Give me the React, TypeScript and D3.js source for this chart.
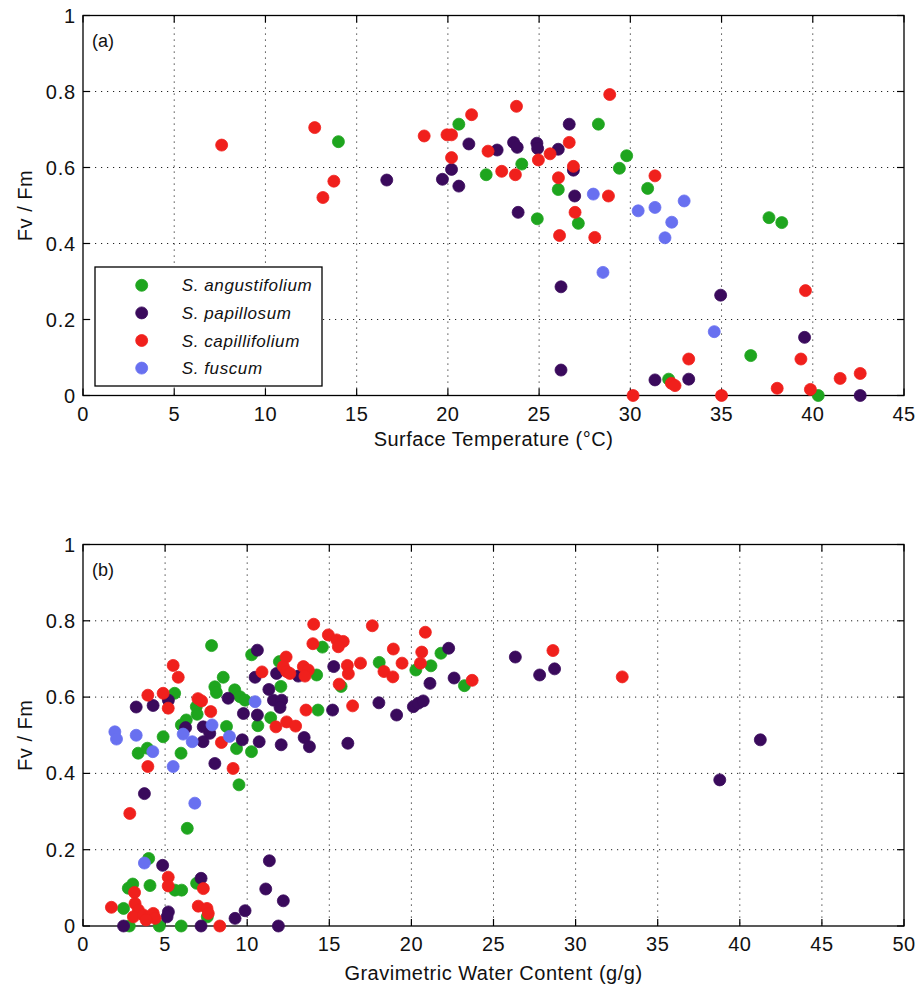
import React from "react";
import * as d3 from "d3";

type Pt = [number, number];

// ---------- Panel (a): Surface Temperature (°C) vs Fv/Fm ----------
const tempAngustifolium: Pt[] = [
  [14.0, 0.668], [20.6, 0.714], [22.1, 0.581], [24.05, 0.609], [24.9, 0.465], [26.05, 0.542],
  [27.15, 0.453], [28.25, 0.714], [29.4, 0.598], [29.8, 0.631], [30.95, 0.545], [32.1, 0.043],
  [36.6, 0.105], [37.6, 0.468], [38.3, 0.455], [40.3, 0.0],
];
const tempPapillosum: Pt[] = [
  [16.65, 0.567], [19.7, 0.569], [20.2, 0.595], [20.6, 0.551], [21.15, 0.662], [22.7, 0.646],
  [23.6, 0.666], [23.8, 0.653], [23.85, 0.482], [24.88, 0.664], [24.92, 0.65], [26.05, 0.648],
  [26.65, 0.714], [26.88, 0.593], [26.95, 0.525], [26.2, 0.286], [26.2, 0.067], [31.35, 0.041],
  [33.2, 0.043], [34.95, 0.264], [39.55, 0.153], [42.6, 0.0],
];
const tempCapillifolium: Pt[] = [
  [7.6, 0.659], [12.7, 0.705], [13.15, 0.521], [13.75, 0.564], [18.7, 0.683], [19.95, 0.686],
  [20.2, 0.686], [20.2, 0.626], [21.3, 0.739], [22.2, 0.643], [22.95, 0.59], [23.7, 0.581],
  [23.76, 0.761], [24.96, 0.62], [25.6, 0.636], [26.06, 0.573], [26.65, 0.666], [26.88, 0.603],
  [26.97, 0.482], [26.12, 0.421], [28.05, 0.416], [28.8, 0.525], [28.87, 0.792], [31.35, 0.578],
  [30.15, 0.0], [32.25, 0.032], [32.45, 0.026], [33.2, 0.096], [35.0, 0.0], [38.05, 0.019],
  [39.35, 0.096], [39.6, 0.276], [39.87, 0.016], [41.5, 0.045], [42.6, 0.058],
];
const tempFuscum: Pt[] = [
  [27.97, 0.53], [28.5, 0.324], [30.43, 0.486], [31.35, 0.495], [31.9, 0.415], [32.27, 0.456],
  [32.95, 0.512], [34.6, 0.168],
];

// ---------- Panel (b): Gravimetric Water Content (g/g) vs Fv/Fm ----------
const waterAngustifolium: Pt[] = [
  [7.83, 0.735], [14.58, 0.731], [10.27, 0.711], [11.96, 0.693], [8.54, 0.652], [14.23, 0.658],
  [18.04, 0.691], [20.27, 0.671], [21.19, 0.682], [21.8, 0.715], [23.23, 0.63], [15.72, 0.628],
  [12.05, 0.628], [14.31, 0.566], [11.43, 0.546], [10.65, 0.525], [10.26, 0.457], [9.35, 0.465],
  [9.5, 0.37], [9.24, 0.619], [9.56, 0.601], [9.87, 0.592], [8.03, 0.627], [8.12, 0.612],
  [8.74, 0.523], [6.9, 0.575], [6.95, 0.555], [6.29, 0.54], [5.99, 0.527], [5.58, 0.61],
  [5.97, 0.453], [4.88, 0.496], [3.36, 0.453], [3.92, 0.466], [6.35, 0.256],
  [4.0, 0.177], [2.76, 0.099], [3.03, 0.11], [4.08, 0.106], [5.6, 0.094], [6.01, 0.094],
  [6.92, 0.112], [2.47, 0.046], [7.57, 0.024], [2.82, 0.0], [4.65, 0.0], [5.98, 0.0],
];
const waterPapillosum: Pt[] = [
  [10.62, 0.723], [22.27, 0.728], [26.33, 0.705], [28.72, 0.674], [27.81, 0.658], [22.6, 0.65],
  [21.13, 0.636], [10.48, 0.652], [11.79, 0.662], [13.11, 0.655], [15.27, 0.68], [11.32, 0.62],
  [11.6, 0.592], [12.1, 0.592], [12.0, 0.573], [8.84, 0.597], [5.2, 0.592], [3.24, 0.574],
  [4.27, 0.578], [9.77, 0.557], [10.62, 0.553], [7.32, 0.522], [7.72, 0.505], [7.31, 0.483],
  [6.25, 0.52], [9.7, 0.488], [10.73, 0.483], [12.07, 0.475], [13.47, 0.494], [13.79, 0.47],
  [16.13, 0.479], [15.2, 0.566], [18.02, 0.585], [19.1, 0.553], [20.12, 0.575], [20.42, 0.584],
  [20.72, 0.59], [8.03, 0.426], [3.74, 0.347], [41.25, 0.488], [38.78, 0.383],
  [4.85, 0.159], [7.19, 0.125], [5.2, 0.037], [5.12, 0.024], [9.26, 0.02], [9.87, 0.04],
  [11.35, 0.171], [11.13, 0.097], [12.2, 0.066], [2.47, 0.0], [7.19, 0.0], [11.9, 0.0],
];
const waterCapillifolium: Pt[] = [
  [14.05, 0.791], [17.62, 0.787], [20.85, 0.77], [14.94, 0.763], [15.45, 0.75], [15.85, 0.746],
  [15.55, 0.732], [14.0, 0.74], [12.37, 0.705], [10.9, 0.666], [12.2, 0.68], [12.4, 0.667],
  [12.6, 0.662], [13.42, 0.68], [13.72, 0.671], [13.52, 0.655], [16.1, 0.683], [16.16, 0.661],
  [16.9, 0.689], [15.6, 0.634], [18.9, 0.726], [18.33, 0.667], [18.87, 0.653], [19.43, 0.689],
  [20.55, 0.689], [20.63, 0.718], [23.7, 0.644], [28.62, 0.722], [32.84, 0.653], [16.42, 0.577],
  [13.58, 0.566], [11.75, 0.522], [12.4, 0.535], [12.95, 0.524], [5.49, 0.683], [5.8, 0.652],
  [3.95, 0.605], [4.88, 0.61], [5.19, 0.571], [7.0, 0.596], [7.22, 0.59], [7.78, 0.562],
  [8.43, 0.481], [9.14, 0.413], [3.95, 0.418], [2.85, 0.295],
  [5.19, 0.128], [5.19, 0.105], [3.14, 0.088], [7.33, 0.098], [1.73, 0.049], [3.17, 0.059],
  [3.37, 0.042], [3.07, 0.024], [3.67, 0.029], [3.98, 0.024], [4.28, 0.033], [4.39, 0.02],
  [3.84, 0.016], [7.02, 0.052], [7.55, 0.046], [7.63, 0.033], [8.33, 0.0],
];
const waterFuscum: Pt[] = [
  [10.48, 0.588], [7.86, 0.527], [8.92, 0.497], [6.1, 0.503], [6.65, 0.483], [1.94, 0.509],
  [2.04, 0.49], [3.24, 0.5], [4.25, 0.457], [5.49, 0.418], [6.81, 0.322], [3.74, 0.165],
];

const speciesNames = ["S. angustifolium", "S. papillosum", "S. capillifolium", "S. fuscum"];
const speciesColors = ["#1ea51e", "#3a0a5c", "#f0201c", "#6870f0"];

const yTickValues = [0, 0.2, 0.4, 0.6, 0.8, 1];
const tempTicks = [0, 5, 10, 15, 20, 25, 30, 35, 40, 45];
const waterTicks = [0, 5, 10, 15, 20, 25, 30, 35, 40, 45, 50];

const FONT = "'Liberation Sans', Arial, Helvetica, sans-serif";

interface PanelProps {
  top: number;
  bottom: number;
  xMax: number;
  xTicks: number[];
  series: Pt[][];
  xLabel: string;
  xLabelBaseline: number;
  tag: string;
  legend?: boolean;
}

const LEFT = 83;
const RIGHT = 904;

function Panel({ top, bottom, xMax, xTicks, series, xLabel, xLabelBaseline, tag, legend }: PanelProps) {
  const x = d3.scaleLinear().domain([0, xMax]).range([LEFT, RIGHT]);
  const y = d3.scaleLinear().domain([0, 1]).range([bottom, top]);
  const tickLen = 7;
  const fmt = (v: number) => (v === 0 || v === 1 ? String(v) : d3.format(".1f")(v));
  return (
    <g>
      {/* grid */}
      {xTicks.slice(1, -1).map((t) => (
        <line key={"gx" + t} x1={x(t)} x2={x(t)} y1={top} y2={bottom}
          stroke="#222" strokeWidth={1} strokeDasharray="1.2,4.8" />
      ))}
      {yTickValues.slice(1, -1).map((t) => (
        <line key={"gy" + t} x1={LEFT} x2={RIGHT} y1={y(t)} y2={y(t)}
          stroke="#222" strokeWidth={1} strokeDasharray="1.2,4.8" />
      ))}
      {/* frame */}
      <rect x={LEFT} y={top} width={RIGHT - LEFT} height={bottom - top} fill="none" stroke="#000" strokeWidth={1.3} />
      {/* ticks */}
      {xTicks.map((t) => (
        <g key={"tx" + t}>
          <line x1={x(t)} x2={x(t)} y1={bottom} y2={bottom - tickLen} stroke="#000" strokeWidth={1.2} />
          <line x1={x(t)} x2={x(t)} y1={top} y2={top + tickLen} stroke="#000" strokeWidth={1.2} />
          <text x={x(t)} y={bottom + 25} textAnchor="middle" fontSize={20} letterSpacing={0.5}
            fontFamily={FONT} fill="#111">{t}</text>
        </g>
      ))}
      {yTickValues.map((t) => (
        <g key={"ty" + t}>
          <line x1={LEFT} x2={LEFT + tickLen} y1={y(t)} y2={y(t)} stroke="#000" strokeWidth={1.2} />
          <line x1={RIGHT} x2={RIGHT - tickLen} y1={y(t)} y2={y(t)} stroke="#000" strokeWidth={1.2} />
          <text x={76} y={y(t) + 7} textAnchor="end" fontSize={20} letterSpacing={0.8}
            fontFamily={FONT} fill="#111">{fmt(t)}</text>
        </g>
      ))}
      {/* labels */}
      <text x={(LEFT + RIGHT) / 2} y={xLabelBaseline} textAnchor="middle" fontSize={20} letterSpacing={0.5}
        fontFamily={FONT} fill="#111">{xLabel}</text>
      <text transform={`translate(32,${(top + bottom) / 2}) rotate(-90)`} textAnchor="middle" fontSize={20}
        letterSpacing={0.5} fontFamily={FONT} fill="#111">Fv / Fm</text>
      <text x={92} y={top + 31} fontSize={18} fontFamily={FONT} fill="#111">{tag}</text>
      {/* points */}
      {series.map((pts, si) => (
        <g key={"s" + si}>
          {pts.map((p, i) => (
            <circle key={i} cx={x(p[0])} cy={y(p[1])} r={6} fill={speciesColors[si]}
              stroke={speciesColors[si]} strokeWidth={0.8} />
          ))}
        </g>
      ))}
      {legend && (
        <g>
          <rect x={95} y={267} width={227} height={119} fill="#fff" stroke="#000" strokeWidth={1.3} />
          {speciesNames.map((n, i) => {
            const cy = 285.3 + i * 27.6;
            return (
              <g key={n}>
                <circle cx={141.7} cy={cy} r={6} fill={speciesColors[i]} stroke={speciesColors[i]} strokeWidth={0.8} />
                <text x={181.7} y={cy + 6} fontSize={17} letterSpacing={0.6} fontStyle="italic"
                  fontFamily={FONT} fill="#111">{n}</text>
              </g>
            );
          })}
        </g>
      )}
    </g>
  );
}

export default function App() {
  return (
    <svg width={918} height={988} viewBox="0 0 918 988"
      style={{ position: "absolute", left: 0, top: 0, background: "#fff" }}>
      <rect x={0} y={0} width={918} height={988} fill="#fff" />
      <Panel top={15.5} bottom={395.5} xMax={45} xTicks={tempTicks}
        series={[tempAngustifolium, tempPapillosum, tempCapillifolium, tempFuscum]}
        xLabel="Surface Temperature (°C)" xLabelBaseline={446} tag="(a)" legend />
      <Panel top={544.5} bottom={926} xMax={50} xTicks={waterTicks}
        series={[waterAngustifolium, waterPapillosum, waterCapillifolium, waterFuscum]}
        xLabel="Gravimetric Water Content (g/g)" xLabelBaseline={980} tag="(b)" />
    </svg>
  );
}
